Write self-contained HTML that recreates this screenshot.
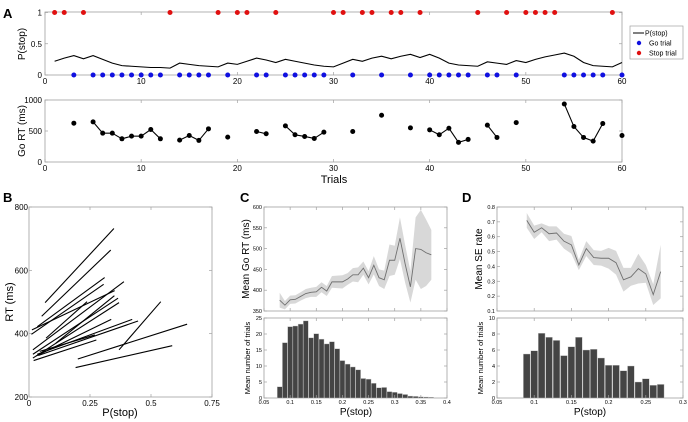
<!DOCTYPE html>
<html><head><meta charset="utf-8"><style>
html,body{margin:0;padding:0;background:#fff;}
svg{display:block;font-family:"Liberation Sans",Arial,sans-serif;}
</style></head><body>
<svg id="fig" width="688" height="422" viewBox="0 0 688 422" xmlns="http://www.w3.org/2000/svg"></svg>
<script>
// ---- Panel A data ----
const stopTrials=[1,2,4,13,18,20,21,24,30,31,33,34,36,37,39,45,48,50,51,52,53,59];
const goTrials=[3,5,6,7,8,9,10,11,12,14,15,16,17,19,22,23,25,26,27,28,29,32,35,38,40,41,42,43,44,46,47,49,54,55,56,57,58,60];
const pStop=[0.22,0.27,0.31,0.26,0.31,0.25,0.19,0.15,0.14,0.13,0.12,0.12,0.11,0.19,0.17,0.15,0.14,0.13,0.19,0.17,0.22,0.27,0.24,0.20,0.25,0.22,0.19,0.16,0.14,0.13,0.19,0.25,0.22,0.27,0.30,0.26,0.30,0.33,0.28,0.33,0.27,0.19,0.16,0.15,0.14,0.21,0.19,0.17,0.23,0.20,0.25,0.29,0.32,0.35,0.30,0.20,0.15,0.14,0.13,0.20];
const goRT=[626,647,465,465,374,417,417,524,374,353,428,348,535,401,492,455,583,439,412,380,481,492,754,551,519,439,545,316,364,594,396,636,936,572,396,337,620,428];
const aXTicks=[0,10,20,30,40,50,60];
// ---- Panel B data ----
const bX1=[0.066,0.052,0.034,0.010,0.012,0.016,0.016,0.016,0.030,0.034,0.038,0.044,0.019,0.369,0.200,0.191,0.110,0.070];
const bY1=[498,455,422,398,412,349,335,323,330,335,331,344,315,349,320,293,370,386];
const bX2=[0.348,0.335,0.310,0.306,0.351,0.389,0.365,0.369,0.337,0.423,0.447,0.270,0.276,0.540,0.648,0.587,0.350,0.238];
const bY2=[732,664,577,556,536,564,512,498,445,445,440,396,380,501,430,362,520,501];
// ---- Panel C data ----
const cBins=[0.08,0.09,0.10,0.11,0.12,0.13,0.14,0.15,0.16,0.17,0.18,0.19,0.20,0.21,0.22,0.23,0.24,0.25,0.26,0.27,0.28,0.29,0.30,0.31,0.32,0.33,0.34,0.35,0.36,0.37];
const cMean=[376,364,377,378,385,392,395,396,407,398,420,420,420,427,437,437,453,430,460,430,425,472,472,525,463,408,500,498,490,485];
const cErr=[18,10,10,10,10,11,11,12,12,12,14,15,16,14,16,18,16,16,22,20,22,38,35,50,45,38,75,95,80,60];
const cCount=[3.5,17.3,22.3,22.5,23.1,24.1,18.8,20.1,18.4,16.9,17.6,15.4,11.7,10.6,9.7,8.8,6.1,5.9,4.6,3.2,3.3,2.0,1.8,1.4,1.1,0.6,0.5,0.35,0.3,0.25];
// ---- Panel D data ----
const dBins=[0.09,0.10,0.11,0.12,0.13,0.14,0.15,0.16,0.17,0.18,0.19,0.20,0.21,0.22,0.23,0.24,0.25,0.26,0.27];
const dMean=[0.71,0.63,0.66,0.62,0.625,0.57,0.545,0.41,0.52,0.46,0.455,0.455,0.425,0.31,0.33,0.385,0.35,0.21,0.365];
const dErr=[0.05,0.045,0.03,0.05,0.045,0.05,0.06,0.035,0.05,0.05,0.05,0.07,0.08,0.08,0.06,0.1,0.06,0.07,0.18];
const dCount=[5.5,5.9,8.1,7.6,7.2,5.3,6.4,7.6,6.0,6.1,5.0,4.1,4.1,3.4,4.0,2.0,2.4,1.6,1.7];

const svg=document.getElementById('fig');
const NS='http://www.w3.org/2000/svg';
function mk(tag,attrs,name,txt){
  const el=document.createElementNS(NS,tag);
  for(const k in attrs) el.setAttribute(k,attrs[k]);
  
  
  if(txt!==undefined) el.textContent=txt;
  svg.appendChild(el);
  return el;
}
function txt(x,y,s,size,anchor,name,rot,weight){
  const a={x:x,y:y,'font-size':size,'text-anchor':anchor||'middle',fill:'#000'};
  if(rot) a.transform='rotate(-90 '+x+' '+y+')';
  if(weight) a['font-weight']=weight;
  return mk('text',a,name,s);
}
function box(x1,y1,x2,y2,name){
  mk('rect',{x:x1,y:y1,width:x2-x1,height:y2-y1,fill:'none',stroke:'#a0a0a0','stroke-width':0.8},name);
}
function tickX(x,yb,yt,name){
  mk('line',{x1:x,y1:yb,x2:x,y2:yb-3,stroke:'#a0a0a0','stroke-width':0.7},name);
  mk('line',{x1:x,y1:yt,x2:x,y2:yt+3,stroke:'#a0a0a0','stroke-width':0.7},name);
}
function tickY(y,xl,xr,name){
  mk('line',{x1:xl,y1:y,x2:xl+3,y2:y,stroke:'#a0a0a0','stroke-width':0.7},name);
  mk('line',{x1:xr,y1:y,x2:xr-3,y2:y,stroke:'#a0a0a0','stroke-width':0.7},name);
}

// panel letters
txt(3,18,'A',13,'start','panel-label-a',false,'bold');
txt(3,202,'B',13,'start','panel-label-b',false,'bold');
txt(240,202,'C',13,'start','panel-label-c',false,'bold');
txt(462,202,'D',13,'start','panel-label-d',false,'bold');

// ===== Panel A =====
const ax=t=>45+t*(577/60);
const ay1=v=>75-v*62.5;
const ay2=v=>162-v*0.062;
box(45,12,622,75,'pstop-plot-frame');
box(45,100,622,162,'gort-plot-frame');
aXTicks.forEach(t=>{
  tickX(ax(t),75,12,'pstop-x-tick');
  tickX(ax(t),162,100,'gort-x-tick');
  txt(ax(t),84,String(t),8,'middle','pstop-x-tick-label');
  txt(ax(t),171,String(t),8,'middle','gort-x-tick-label');
});
[[0,'0'],[0.5,'0.5'],[1,'1']].forEach(p=>{tickY(ay1(p[0]),45,622,'pstop-y-tick');txt(42,ay1(p[0])+3,p[1],8,'end','pstop-y-tick-label');});
[[0,'0'],[500,'500'],[1000,'1000']].forEach(p=>{tickY(ay2(p[0]),45,622,'gort-y-tick');txt(42,ay2(p[0])+3,p[1],8,'end','gort-y-tick-label');});
txt(25,44,'P(stop)',10,'middle','pstop-y-axis-title',true);
txt(25,131,'Go RT (ms)',10,'middle','gort-y-axis-title',true);
txt(334,183,'Trials',11,'middle','trials-x-axis-title');
let pts=pStop.map((v,i)=>ax(i+1)+','+ay1(v)).join(' ');
mk('polyline',{points:pts,fill:'none',stroke:'#000','stroke-width':1.1},'pstop-line');
stopTrials.forEach(t=>mk('circle',{cx:ax(t),cy:ay1(1),r:2.5,fill:'#e01010'},'stop-trial-dot'));
goTrials.forEach(t=>mk('circle',{cx:ax(t),cy:ay1(0),r:2.5,fill:'#1010e0'},'go-trial-dot'));
for(let i=0;i<goTrials.length-1;i++){
  if(goTrials[i+1]===goTrials[i]+1)
    mk('line',{x1:ax(goTrials[i]),y1:ay2(goRT[i]),x2:ax(goTrials[i+1]),y2:ay2(goRT[i+1]),stroke:'#000','stroke-width':1.1},'gort-segment');
}
goTrials.forEach((t,i)=>mk('circle',{cx:ax(t),cy:ay2(goRT[i]),r:2.5,fill:'#000'},'gort-point'));
// legend
mk('rect',{x:630,y:26,width:53,height:33,fill:'#fff',stroke:'#a0a0a0','stroke-width':0.7},'legend-box');
mk('line',{x1:633,y1:33,x2:644,y2:33,stroke:'#000','stroke-width':1},'legend-pstop-line');
txt(645,35.5,'P(stop)',7,'start','legend-entry-pstop');
mk('circle',{cx:639,cy:43,r:2.2,fill:'#1010e0'},'legend-go-dot');
txt(649,45.5,'Go trial',7,'start','legend-entry-go');
mk('circle',{cx:639,cy:53,r:2.2,fill:'#e01010'},'legend-stop-dot');
txt(649,55.5,'Stop trial',7,'start','legend-entry-stop');

// ===== Panel B =====
const bx=v=>29+v/0.75*183;
const by=v=>397-(v-200)/600*190;
box(29,207,212,397,'panel-b-frame');
[0,0.25,0.5,0.75].forEach(v=>{tickX(bx(v),397,207,'b-x-tick');txt(bx(v),406,String(v),8,'middle','b-x-tick-label');});
[200,400,600,800].forEach(v=>{tickY(by(v),29,212,'b-y-tick');txt(28,by(v)+3,String(v),8,'end','b-y-tick-label');});
txt(120,416,'P(stop)',11,'middle','b-x-axis-title');
txt(13,302,'RT (ms)',11,'middle','b-y-axis-title',true);
bX1.forEach((v,i)=>mk('line',{x1:bx(v),y1:by(bY1[i]),x2:bx(bX2[i]),y2:by(bY2[i]),stroke:'#000','stroke-width':1.1},'subject-regression-line'));

// ===== Panels C & D (shared helpers) =====
function bandPanel(bins,mean,err,xs,ys,name){
  let up=bins.map((b,i)=>xs(b)+','+ys(mean[i]+err[i]));
  let dn=bins.map((b,i)=>xs(b)+','+ys(mean[i]-err[i])).reverse();
  mk('polygon',{points:up.concat(dn).join(' '),fill:'#d8d8d8',stroke:'none'},name+'-error-band');
  mk('polyline',{points:bins.map((b,i)=>xs(b)+','+ys(mean[i])).join(' '),fill:'none',stroke:'#707070','stroke-width':0.9},name+'-mean-line');
}
// C
const cx=v=>264+(v-0.05)/0.35*183;
const cyU=v=>311-(v-350)/250*104;
const cyL=v=>398-v/25*80;
bandPanel(cBins,cMean,cErr,cx,cyU,'c');
box(264,207,447,311,'c-upper-frame');
box(264,318,447,398,'c-lower-frame');
cBins.forEach((b,i)=>mk('rect',{x:cx(b)-2.5,y:cyL(cCount[i]),width:5,height:398-cyL(cCount[i]),fill:'#444',stroke:'#ccc','stroke-width':0.4},'c-histogram-bar'));
[0.05,0.1,0.15,0.2,0.25,0.3,0.35,0.4].forEach(v=>{tickX(cx(v),311,207,'c-upper-x-tick');tickX(cx(v),398,318,'c-lower-x-tick');txt(cx(v),404,String(v),5.5,'middle','c-x-tick-label');});
[350,400,450,500,550,600].forEach(v=>{tickY(cyU(v),264,447,'c-upper-y-tick');txt(262,cyU(v)+2,String(v),5.5,'end','c-upper-y-tick-label');});
[0,5,10,15,20,25].forEach(v=>{tickY(cyL(v),264,447,'c-lower-y-tick');txt(262,cyL(v)+2,String(v),5.5,'end','c-lower-y-tick-label');});
txt(249,259,'Mean Go RT (ms)',10,'middle','c-upper-y-axis-title',true);
txt(250,358,'Mean number of trials',7.5,'middle','c-lower-y-axis-title',true);
txt(356,415,'P(stop)',10,'middle','c-x-axis-title');
// D
const dx=v=>497+(v-0.05)/0.25*186;
const dyU=v=>311-(v-0.1)/0.7*104;
const dyL=v=>398-v/10*80;
bandPanel(dBins,dMean,dErr,dx,dyU,'d');
box(497,207,683,311,'d-upper-frame');
box(497,318,683,398,'d-lower-frame');
dBins.forEach((b,i)=>mk('rect',{x:dx(b)-3.4,y:dyL(dCount[i]),width:6.8,height:398-dyL(dCount[i]),fill:'#444',stroke:'#ccc','stroke-width':0.4},'d-histogram-bar'));
[0.05,0.1,0.15,0.2,0.25,0.3].forEach(v=>{tickX(dx(v),311,207,'d-upper-x-tick');tickX(dx(v),398,318,'d-lower-x-tick');txt(dx(v),404,String(v),5.5,'middle','d-x-tick-label');});
[0.1,0.2,0.3,0.4,0.5,0.6,0.7,0.8].forEach(v=>{tickY(dyU(v),497,683,'d-upper-y-tick');txt(495,dyU(v)+2,String(v),5.5,'end','d-upper-y-tick-label');});
[0,2,4,6,8,10].forEach(v=>{tickY(dyL(v),497,683,'d-lower-y-tick');txt(495,dyL(v)+2,String(v),5.5,'end','d-lower-y-tick-label');});
txt(482,259,'Mean SE rate',10,'middle','d-upper-y-axis-title',true);
txt(483,358,'Mean number of trials',7.5,'middle','d-lower-y-axis-title',true);
txt(590,415,'P(stop)',10,'middle','d-x-axis-title');
</script>
</body></html>
